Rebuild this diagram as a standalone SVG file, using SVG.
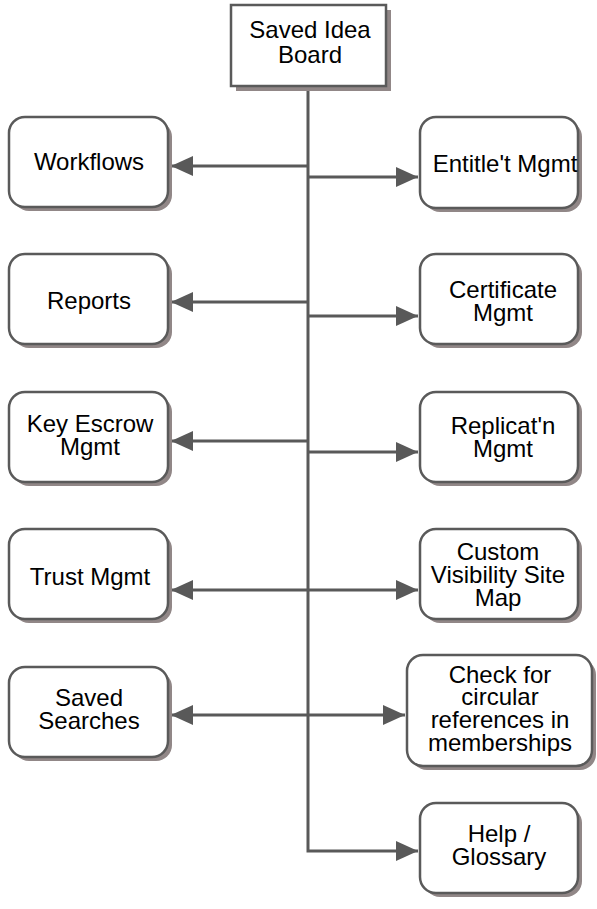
<svg xmlns="http://www.w3.org/2000/svg" width="597" height="909" viewBox="0 0 597 909">
<defs>
<style>
.box{fill:#ffffff;stroke:#5a5a5a;stroke-width:2.5}
.shadow{fill:#918787;stroke:none}
.lbl{font-family:"Liberation Sans",Arial,sans-serif;font-size:24px;fill:#000000;text-anchor:middle}
.conn{fill:none;stroke:#595959;stroke-width:3}
</style>
<marker id="arr" markerUnits="userSpaceOnUse" markerWidth="24" markerHeight="22" viewBox="0 0 24 22" refX="23" refY="11" orient="auto">
<path d="M1,1 L23,11 L1,21 z" fill="#595959"/>
</marker>
</defs>
<rect width="597" height="909" fill="#ffffff"/>
<g id="connectors">
<path class="conn" d="M308,86 V851 H418" marker-end="url(#arr)"/>
<line class="conn" x1="308" y1="166" x2="171" y2="166" marker-end="url(#arr)"/>
<line class="conn" x1="308" y1="177" x2="418" y2="177" marker-end="url(#arr)"/>
<line class="conn" x1="308" y1="302" x2="171" y2="302" marker-end="url(#arr)"/>
<line class="conn" x1="308" y1="316" x2="418" y2="316" marker-end="url(#arr)"/>
<line class="conn" x1="308" y1="441" x2="171" y2="441" marker-end="url(#arr)"/>
<line class="conn" x1="308" y1="452" x2="418" y2="452" marker-end="url(#arr)"/>
<line class="conn" x1="308" y1="590" x2="171" y2="590" marker-end="url(#arr)"/>
<line class="conn" x1="308" y1="590" x2="418" y2="590" marker-end="url(#arr)"/>
<line class="conn" x1="308" y1="715" x2="171" y2="715" marker-end="url(#arr)"/>
<line class="conn" x1="308" y1="715" x2="405" y2="715" marker-end="url(#arr)"/>
</g>
<g id="saved-idea-board">
<rect class="shadow" x="236" y="10" width="155" height="81"/>
<rect class="box" x="231" y="5" width="155" height="81" stroke-width="3"/>
<text class="lbl" x="310" y="38">Saved Idea</text>
<text class="lbl" x="310" y="63">Board</text>
</g>
<g id="workflows">
<rect class="shadow" x="13" y="121" width="159" height="90" rx="16"/>
<rect class="box" x="9" y="117" width="159" height="90" rx="16"/>
<text class="lbl" x="89" y="170">Workflows</text>
</g>
<g id="entitlement-mgmt">
<rect class="shadow" x="424" y="121" width="158" height="91" rx="16"/>
<rect class="box" x="420" y="117" width="158" height="91" rx="16"/>
<text class="lbl" x="505" y="172">Entitle't Mgmt</text>
</g>
<g id="reports">
<rect class="shadow" x="13" y="258" width="159" height="90" rx="16"/>
<rect class="box" x="9" y="254" width="159" height="90" rx="16"/>
<text class="lbl" x="89" y="309">Reports</text>
</g>
<g id="certificate-mgmt">
<rect class="shadow" x="424" y="258" width="158" height="90" rx="16"/>
<rect class="box" x="420" y="254" width="158" height="90" rx="16"/>
<text class="lbl" x="503" y="298">Certificate</text>
<text class="lbl" x="503" y="321">Mgmt</text>
</g>
<g id="key-escrow-mgmt">
<rect class="shadow" x="13" y="396" width="159" height="90" rx="16"/>
<rect class="box" x="9" y="392" width="159" height="90" rx="16"/>
<text class="lbl" x="90" y="432">Key Escrow</text>
<text class="lbl" x="90" y="455">Mgmt</text>
</g>
<g id="replication-mgmt">
<rect class="shadow" x="424" y="396" width="158" height="90" rx="16"/>
<rect class="box" x="420" y="392" width="158" height="90" rx="16"/>
<text class="lbl" x="503" y="434">Replicat'n</text>
<text class="lbl" x="503" y="457">Mgmt</text>
</g>
<g id="trust-mgmt">
<rect class="shadow" x="13" y="533" width="159" height="90" rx="16"/>
<rect class="box" x="9" y="529" width="159" height="90" rx="16"/>
<text class="lbl" x="90" y="585">Trust Mgmt</text>
</g>
<g id="custom-visibility-site-map">
<rect class="shadow" x="424" y="533" width="158" height="90" rx="16"/>
<rect class="box" x="420" y="529" width="158" height="90" rx="16"/>
<text class="lbl" x="498" y="560">Custom</text>
<text class="lbl" x="498" y="583">Visibility Site</text>
<text class="lbl" x="498" y="606">Map</text>
</g>
<g id="saved-searches">
<rect class="shadow" x="13" y="671" width="159" height="90" rx="16"/>
<rect class="box" x="9" y="667" width="159" height="90" rx="16"/>
<text class="lbl" x="89" y="706">Saved</text>
<text class="lbl" x="89" y="729">Searches</text>
</g>
<g id="check-circular-references">
<rect class="shadow" x="411" y="659" width="185" height="111" rx="16"/>
<rect class="box" x="407" y="655" width="185" height="111" rx="16"/>
<text class="lbl" x="500" y="683">Check for</text>
<text class="lbl" x="500" y="705">circular</text>
<text class="lbl" x="500" y="728">references in</text>
<text class="lbl" x="500" y="751">memberships</text>
</g>
<g id="help-glossary">
<rect class="shadow" x="424" y="807" width="158" height="90" rx="16"/>
<rect class="box" x="420" y="803" width="158" height="90" rx="16"/>
<text class="lbl" x="499" y="842">Help /</text>
<text class="lbl" x="499" y="865">Glossary</text>
</g>
</svg>
